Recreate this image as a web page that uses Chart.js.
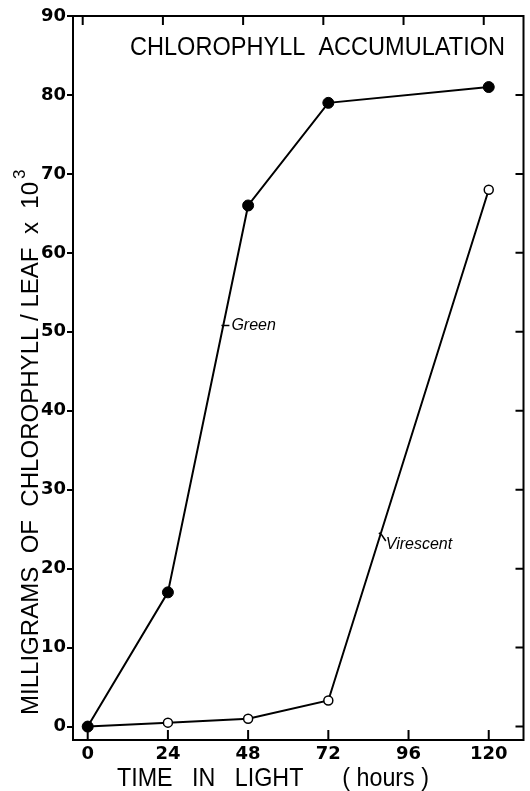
<!DOCTYPE html>
<html>
<head>
<meta charset="utf-8">
<script src="https://cdn.jsdelivr.net/npm/chart.js@4.4.0/dist/chart.umd.min.js"></script>
<style>
  html, body { margin: 0; padding: 0; background: #fff; }
  #wrap { width: 530px; height: 791px; }
</style>
</head>
<body>
<div id="wrap"><canvas id="chart" width="530" height="791"></canvas></div>
<script>
// Data
const hours = [0, 24, 48, 72, 120];
const green = [0, 17, 66, 79, 81];
const virescent = [0, 0.5, 1, 3.3, 68];
const xTicks = [0, 24, 48, 72, 96, 120];
const yTicks = [0, 10, 20, 30, 40, 50, 60, 70, 80, 90];

const FONT = '"Liberation Sans", Arial, sans-serif';
const TICK_FONT = '"DejaVu Sans", sans-serif';

// Draw text squeezed to a target width
function fitText(ctx, text, x, y, width, font) {
    ctx.save();
    ctx.font = font;
    const w = ctx.measureText(text).width;
    ctx.translate(x, y);
    ctx.scale(width / w, 1);
    ctx.textAlign = 'left';
    ctx.textBaseline = 'middle';
    ctx.fillText(text, 0, 0);
    ctx.restore();
}

const framePlugin = {
    id: 'frame',
    afterDraw(chart) {
        const ctx = chart.ctx;
        const a = chart.chartArea;
        const xs = chart.scales.x;
        const ys = chart.scales.y;
        ctx.save();
        ctx.strokeStyle = '#000';
        ctx.fillStyle = '#000';
        ctx.lineWidth = 2;

        // Box
        ctx.strokeRect(a.left, a.top, a.right - a.left, a.bottom - a.top);

        // Inward ticks: bottom, top, right
        ctx.beginPath();
        xTicks.forEach(v => {
            const px = xs.getPixelForValue(v);
            ctx.moveTo(px, a.bottom);
            ctx.lineTo(px, a.bottom - 10);
            ctx.moveTo(px - 5, a.top);
            ctx.lineTo(px - 5, a.top + 9);
        });
        yTicks.forEach(v => {
            const py = ys.getPixelForValue(v);
            ctx.moveTo(a.right, py);
            ctx.lineTo(a.right - 8, py);
        });
        ctx.stroke();

        // Title inside plot
        fitText(ctx, 'CHLOROPHYLL  ACCUMULATION', 130, 48, 375, '25px ' + FONT);

        // X axis title
        fitText(ctx, 'TIME   IN   LIGHT      ( hours )', 117, 779, 312, '25px ' + FONT);

        // Y axis title (rotated)
        ctx.save();
        ctx.translate(32, 715);
        ctx.rotate(-Math.PI / 2);
        fitText(ctx, 'MILLIGRAMS  OF  CHLOROPHYLL / LEAF  x  10', 0, 0, 533, '23px ' + FONT);
        ctx.font = '17px ' + FONT;
        ctx.textBaseline = 'middle';
        ctx.fillText('3', 536, -12);
        ctx.restore();

        // Series labels with leaders
        ctx.font = 'italic 16px ' + FONT;
        ctx.textBaseline = 'middle';
        ctx.lineWidth = 1.5;

        let gx = xs.getPixelForValue(43);
        let gy = ys.getPixelForValue(50.8);
        ctx.fillText('Green', gx, gy);
        ctx.beginPath();
        ctx.moveTo(gx - 10, gy);
        ctx.lineTo(gx - 2, gy);
        ctx.stroke();

        let vx = xs.getPixelForValue(89.2);
        let vy = ys.getPixelForValue(23);
        ctx.fillText('Virescent', vx, vy);
        ctx.beginPath();
        ctx.moveTo(vx - 7, vy - 12);
        ctx.lineTo(vx - 4, vy - 10);
        ctx.lineTo(vx, vy - 4);
        ctx.stroke();

        ctx.restore();
    }
};

new Chart(document.getElementById('chart'), {
    type: 'line',
    data: {
        datasets: [
            {
                label: 'Green',
                data: hours.map((h, i) => ({ x: h, y: green[i] })),
                borderColor: '#000',
                borderWidth: 2,
                backgroundColor: '#000',
                pointBackgroundColor: '#000',
                pointBorderColor: '#000',
                pointRadius: 5.5,
                pointBorderWidth: 1,
                tension: 0
            },
            {
                label: 'Virescent',
                data: hours.map((h, i) => ({ x: h, y: virescent[i] })),
                borderColor: '#000',
                borderWidth: 2,
                pointBackgroundColor: '#fff',
                pointBorderColor: '#000',
                pointRadius: 4.5,
                pointBorderWidth: 1.5,
                tension: 0
            }
        ]
    },
    options: {
        responsive: false,
        animation: false,
        layout: { padding: { top: 16, right: 2, left: 0, bottom: 0 } },
        plugins: {
            legend: { display: false },
            tooltip: { enabled: false }
        },
        scales: {
            x: {
                type: 'linear',
                min: -4.4,
                max: 130.4,
                afterBuildTicks: scale => { scale.ticks = xTicks.map(v => ({ value: v })); },
                afterFit: scale => { scale.height = 51; },
                grid: { display: false, drawTicks: false },
                border: { display: false },
                ticks: {
                    color: '#000',
                    padding: 4,
                    maxRotation: 0,
                    font: { family: TICK_FONT, size: 18, weight: 'bold' }
                }
            },
            y: {
                min: -1.7,
                max: 90,
                afterBuildTicks: scale => { scale.ticks = yTicks.map(v => ({ value: v })); },
                afterFit: scale => { scale.width = 73; },
                grid: {
                    display: true,
                    drawOnChartArea: false,
                    drawTicks: true,
                    tickLength: 6,
                    color: '#000',
                    lineWidth: 2
                },
                border: { display: false },
                ticks: {
                    color: '#000',
                    padding: 1,
                    font: { family: TICK_FONT, size: 18, weight: 'bold' }
                }
            }
        }
    },
    plugins: [framePlugin]
});
</script>
</body>
</html>
